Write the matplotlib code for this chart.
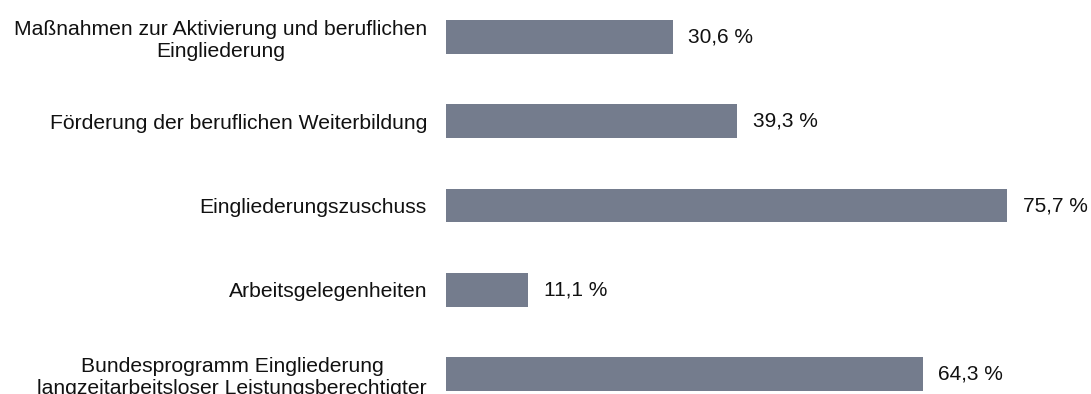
import matplotlib.pyplot as plt

plt.rcParams["font.family"] = ["Liberation Sans", "DejaVu Sans"]

categories = [
    "Maßnahmen zur Aktivierung und beruflichen\nEingliederung",
    "Förderung der beruflichen Weiterbildung",
    "Eingliederungszuschuss",
    "Arbeitsgelegenheiten",
    "Bundesprogramm Eingliederung\nlangzeitarbeitsloser Leistungsberechtigter",
]
values = [30.6, 39.3, 75.7, 11.1, 64.3]

bar_color = "#747c8d"

fig = plt.figure(figsize=(10.91, 3.94), dpi=100)
ax = fig.add_axes([446 / 1091, 0, 1 - 446 / 1091, 1])

pos = list(range(len(categories)))
ax.barh(pos, values, height=0.40, color=bar_color)

for p, v in zip(pos, values):
    ax.annotate(f"{v:.1f} %".replace(".", ","), (v, p), xytext=(11, 0),
                textcoords="offset points", va="center", ha="left",
                fontsize=15, color="#111111")

ax.set_yticks(pos)
ax.set_yticklabels(categories, fontsize=15.25, color="#111111",
                   multialignment="center", linespacing=1.22)
ax.tick_params(axis="y", length=0, pad=13.7)
ax.set_xticks([])
ax.set_xlim(0, 87)
ax.set_ylim(4.237, -0.439)
for side in ax.spines.values():
    side.set_visible(False)

fig.savefig("out.png", dpi=100)
